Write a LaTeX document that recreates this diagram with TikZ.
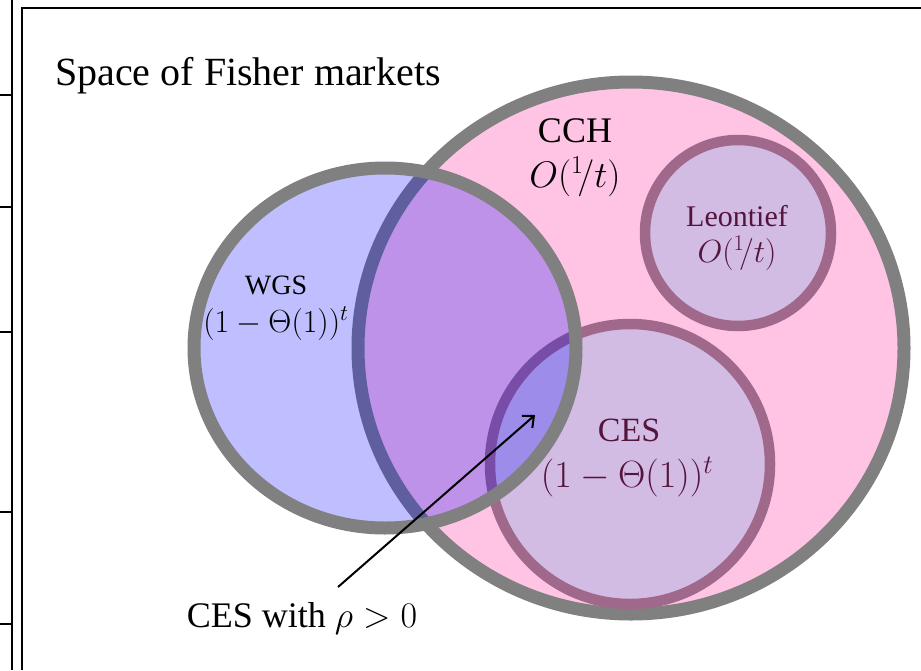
\RequirePackage{fix-cm}
\documentclass[tikz,border=0pt]{standalone}
\usepackage{fontspec}
\setmainfont{Liberation Serif}
\usetikzlibrary{arrows.meta}
\definecolor{gborder}{RGB}{128,128,128}
\definecolor{cchfill}{RGB}{255,196,228}
\definecolor{subfill}{RGB}{210,188,228}
\definecolor{subborder}{RGB}{160,104,138}
\definecolor{subtext}{RGB}{85,20,60}
\tikzset{
  frameline/.style={line width=2.5pt, black},
  bigset/.style={line width=13pt, draw=gborder},
  subset/.style={line width=10.5pt, draw=subborder, fill=subfill},
  wgsfill/.style={fill=blue, fill opacity=0.25},
  lbl/.style={anchor=base, inner sep=0pt}
}
\newcommand{\onet}{O({}^{1}\!/t)}
\begin{document}
\begin{tikzpicture}[x=1pt,y=-1pt]
\useasboundingbox (0,0) rectangle (921,670);
% frame
\draw[frameline] (12,0) -- (12,670);
\foreach \yy in {95,207,332,512,624} \draw[frameline] (0,\yy) -- (12,\yy);
\draw[frameline] (22,670) -- (22,8) -- (921,8);
% centres
\coordinate (cch) at (631,348);
\coordinate (leo) at (738,233);
\coordinate (ces) at (630,464);
\coordinate (wgs) at (385,348);
% sets
\fill[cchfill] (cch) ellipse[x radius=273pt, y radius=266pt];
\draw[bigset] (cch) ellipse[x radius=273pt, y radius=266pt];
\draw[subset] (leo) circle[radius=93pt];
\draw[subset] (ces) circle[radius=140pt];
\fill[wgsfill] (wgs) ellipse[x radius=191pt, y radius=180pt];
\draw[bigset] (wgs) ellipse[x radius=191pt, y radius=180pt];
% labels
\node[lbl, anchor=base west, font=\fontsize{40}{48}\selectfont] (title) at (55,85) {Space of Fisher markets};
\node[lbl, font=\fontsize{36}{44}\selectfont] (cchname) at (575,142) {CCH};
\node[lbl, font=\fontsize{37}{44}\selectfont] (cchrate) at (575,187) {$\onet$};
\node[lbl, font=\fontsize{28}{34}\selectfont] (wgsname) at (276,294) {WGS};
\node[lbl, font=\fontsize{32}{38}\selectfont] (wgsrate) at (276,332) {$(1-\Theta(1))^t$};
\node[lbl, text=subtext, font=\fontsize{30}{36}\selectfont] (leoname) at (737,226) {Leontief};
\node[lbl, text=subtext, font=\fontsize{32}{38}\selectfont] (leorate) at (737,262) {$\onet$};
\node[lbl, text=subtext, font=\fontsize{34}{40}\selectfont] (cesname) at (629,441) {CES};
\node[lbl, text=subtext, font=\fontsize{38}{44}\selectfont] (cesrate) at (627,487) {$(1-\Theta(1))^t$};
\node[lbl, font=\fontsize{36}{42}\selectfont] (pos) at (302,627) {CES with $\rho>0$};
% arrow
\coordinate (tail) at (338,587);
\coordinate (head) at (535,415);
\draw[line width=2pt, -{Straight Barb[length=9pt,width=16pt]}] (tail) -- (head);
\end{tikzpicture}
\end{document}
